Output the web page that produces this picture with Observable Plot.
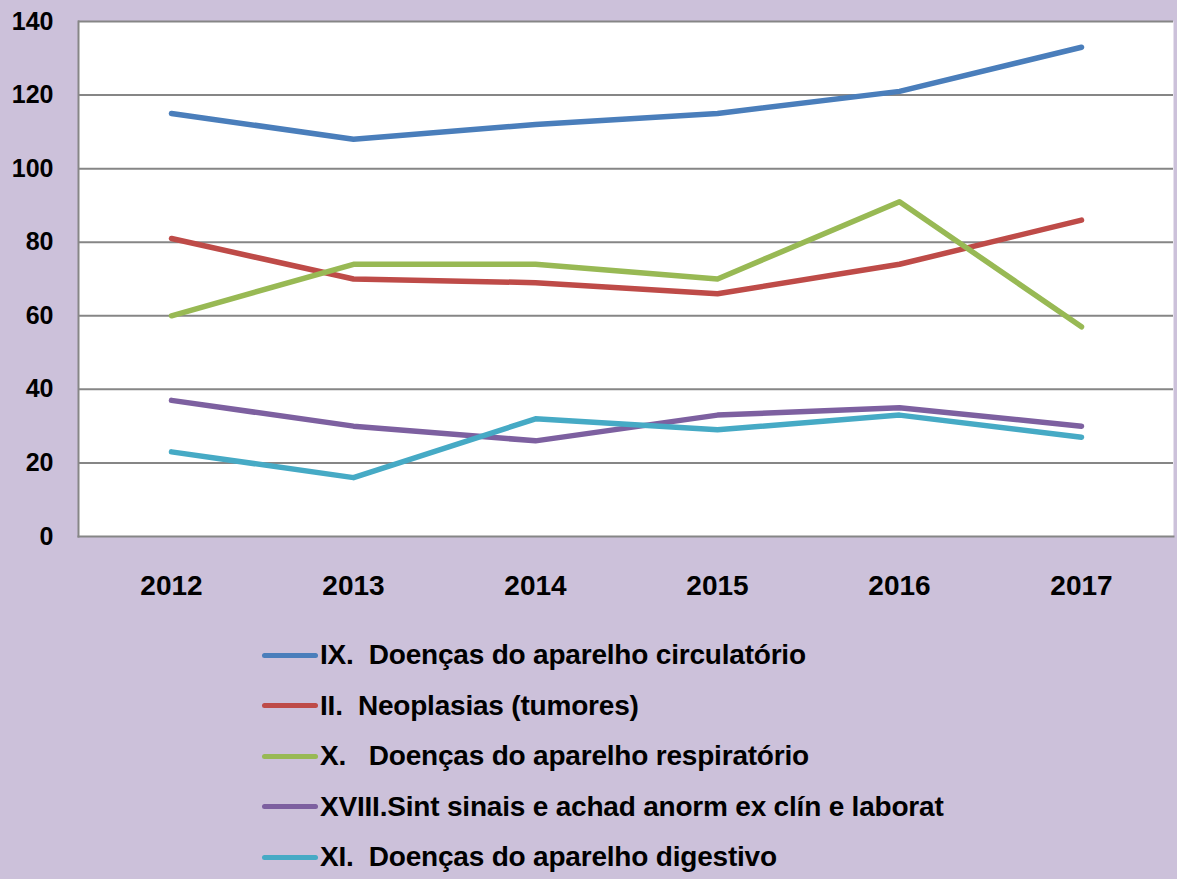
<!DOCTYPE html>
<html>
<head>
<meta charset="utf-8">
<script src="https://cdn.jsdelivr.net/npm/d3@7"></script>
<script src="https://cdn.jsdelivr.net/npm/@observablehq/plot@0.6"></script>
<style>
  html, body { margin: 0; padding: 0; background: #CCC1DA; }
  #chart svg { display: block; background: #CCC1DA; }
  #legend { padding-top: 5px; }
  .item { margin-left: 262px; height: 50.5px; display: flex; align-items: center; font-family: "Liberation Sans", sans-serif; font-weight: bold; font-size: 28px; letter-spacing: -0.2px; color: #000; white-space: pre; }
  .sw { display: inline-block; width: 56px; height: 5px; border-radius: 3px; margin-right: 2px; }
</style>
</head>
<body>
<div id="chart"></div>
<div id="legend"></div>
<script>
const years = ["2012", "2013", "2014", "2015", "2016", "2017"];
const seriesNames = [
  "IX.  Doenças do aparelho circulatório",
  "II.  Neoplasias (tumores)",
  "X.   Doenças do aparelho respiratório",
  "XVIII.Sint sinais e achad anorm ex clín e laborat",
  "XI.  Doenças do aparelho digestivo"
];
const seriesColors = ["#4A7EBB", "#BE4B48", "#98B954", "#7D60A0", "#46AAC5"];
const circulatorio = [115, 108, 112, 115, 121, 133];
const neoplasias = [81, 70, 69, 66, 74, 86];
const respiratorio = [60, 74, 74, 70, 91, 57];
const sintomas = [37, 30, 26, 33, 35, 30];
const digestivo = [23, 16, 32, 29, 33, 27];
const yTicks = [0, 20, 40, 60, 80, 100, 120, 140];

const seriesValues = [circulatorio, neoplasias, respiratorio, sintomas, digestivo];
const data = [];
seriesNames.forEach((name, i) => {
  years.forEach((yr, j) => data.push({ series: name, year: yr, value: seriesValues[i][j] }));
});

const legend = document.getElementById("legend");
seriesNames.forEach((name, i) => {
  const item = document.createElement("div");
  item.className = "item";
  const sw = document.createElement("span");
  sw.className = "sw";
  sw.style.background = seriesColors[i];
  const t = document.createElement("span");
  t.textContent = name;
  item.appendChild(sw);
  item.appendChild(t);
  legend.appendChild(item);
});

const chart = Plot.plot({
  width: 1177,
  height: 625,
  marginTop: 21,
  marginBottom: 89,
  marginLeft: 78,
  marginRight: 4,
  style: { fontFamily: "Liberation Sans, sans-serif", fontWeight: "bold", color: "#000", background: "#CCC1DA" },
  x: { type: "point", domain: years, padding: 0.5, label: null },
  y: { domain: [0, 140], label: null },
  color: { domain: seriesNames, range: seriesColors },
  marks: [
    Plot.frame({ fill: "white", stroke: null }),
    Plot.ruleY(yTicks.filter(d => d > 0), { stroke: "#868686", strokeWidth: 2 }),
    Plot.frame({ anchor: "left", stroke: "#868686", strokeWidth: 2 }),
    Plot.frame({ anchor: "bottom", stroke: "#868686", strokeWidth: 2 }),
    Plot.axisY({ ticks: yTicks, tickSize: 0, tickPadding: 25, fontSize: 25, fill: "#000" }),
    Plot.axisX({ tickSize: 0, tickPadding: 39, fontSize: 28, fill: "#000" }),
    Plot.line(data, { x: "year", y: "value", z: "series", stroke: "series", strokeWidth: 5.5, strokeLinecap: "round", strokeLinejoin: "round" })
  ]
});
document.getElementById("chart").appendChild(chart);
</script>
</body>
</html>
